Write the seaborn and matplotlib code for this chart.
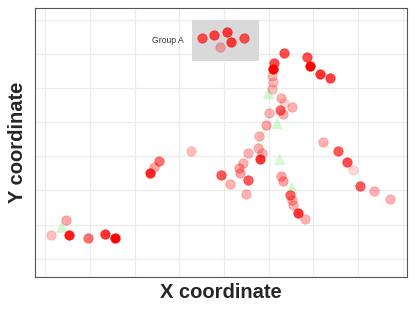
import pandas as pd
import matplotlib.pyplot as plt
import seaborn as sns
from matplotlib.patches import Rectangle

# red points: x, y and opacity
pt_x = [3.51, 3.78, 4.08, 4.16, 4.44, 3.92,
        5.35, 5.13, 5.11, 5.07, 5.09, 5.07, 5.86, 5.93, 6.16, 6.38,
        5.28, 5.35, 5.25, 5.32, 5.53, 5.00, 4.94, 4.78, 4.76, 4.85, 4.81,
        4.53, 4.43, 4.33, 4.37, 4.55, 3.94, 4.14, 4.49, 5.28, 5.32, 5.49,
        5.52, 5.54, 5.65, 5.82,
        6.21, 6.55, 6.75, 6.90, 7.05, 7.35, 7.71,
        2.35, 2.43, 2.54, 3.26,
        0.14, 0.46, 0.53, 0.97, 1.35, 1.57]
pt_y = [6.46, 6.55, 6.64, 6.35, 6.48, 6.21,
        6.02, 5.75, 5.55, 5.36, 5.18, 4.97, 5.93, 5.66, 5.42, 5.29,
        4.71, 4.58, 4.36, 4.25, 4.46, 4.26, 3.92, 3.60, 3.25, 3.11, 2.91,
        3.11, 2.81, 2.67, 2.50, 2.32, 2.44, 2.20, 1.89, 2.43, 2.28, 1.86,
        1.72, 1.57, 1.34, 1.17,
        3.43, 3.16, 2.84, 2.60, 2.13, 1.98, 1.76,
        2.50, 2.70, 2.87, 3.17,
        0.69, 1.13, 0.69, 0.61, 0.71, 0.60]
pt_alpha = [0.65, 0.7, 0.75, 0.75, 0.65, 0.3,
            0.7, 0.7, 1.0, 0.25, 0.25, 0.25, 0.7, 1.0, 0.8, 0.75,
            0.3, 0.15, 0.6, 0.3, 0.3, 0.3, 0.35, 0.3, 0.3, 0.3, 0.8,
            0.3, 0.3, 0.35, 0.35, 0.65, 0.65, 0.3, 0.3, 0.35, 0.35, 0.6,
            0.3, 0.3, 0.8, 0.3,
            0.3, 0.65, 0.7, 0.15, 0.65, 0.3, 0.3,
            0.85, 0.35, 0.55, 0.25,
            0.25, 0.35, 0.9, 0.55, 0.8, 1.0]

# green triangles
tri_x = [5.00, 5.19, 5.25, 5.52, 0.37, 4.89, 4.84]
tri_y = [4.85, 3.97, 2.92, 2.08, 0.93, 3.73, 3.43]
tri_alpha = [0.4, 0.4, 0.35, 0.45, 0.4, 0.15, 0.15]

df = pd.DataFrame({"x": pt_x, "y": pt_y, "a": pt_alpha})
tri = pd.DataFrame({"x": tri_x, "y": tri_y, "a": tri_alpha})

sns.set_theme(style="whitegrid")
plt.rcParams["font.family"] = ["Liberation Sans", "DejaVu Sans"]

fig = plt.figure(figsize=(4.15, 3.12), dpi=100)
ax = fig.add_axes([0.084, 0.112, 0.897, 0.862])

# highlight box for Group A
ax.add_patch(Rectangle((3.29, 5.80), 1.50, 1.21, facecolor="#d9d9d9",
                       edgecolor="none", zorder=1))
ax.text(3.10, 6.40, "Group A", ha="right", va="center", fontsize=6.2,
        color="#333333", zorder=3)

for a, g in tri.groupby("a"):
    sns.scatterplot(data=g, x="x", y="y", marker="^", s=70, color="#90ee90",
                    alpha=a, edgecolor="none", ax=ax, zorder=2)

for a, g in df.groupby("a"):
    sns.scatterplot(data=g, x="x", y="y", s=46, color="#ff0000", alpha=a,
                    edgecolor="#ff0000", linewidth=0.5, ax=ax, zorder=2)

ax.set_xlim(-0.23, 8.10)
ax.set_ylim(-0.54, 7.35)
ax.set_xticks(range(0, 9))
ax.set_yticks(range(0, 8))
ax.tick_params(left=False, bottom=False, labelleft=False, labelbottom=False)
ax.grid(True, color="#ebebeb", linewidth=0.9)
for side in ax.spines.values():
    side.set_visible(True)
    side.set_color("#555555")
    side.set_linewidth(0.8)

ax.set_xlabel("X coordinate", fontsize=14.5, weight="bold", labelpad=4)
ax.set_ylabel("Y coordinate", fontsize=14.5, weight="bold", labelpad=6)

fig.savefig("out.png", dpi=100)
